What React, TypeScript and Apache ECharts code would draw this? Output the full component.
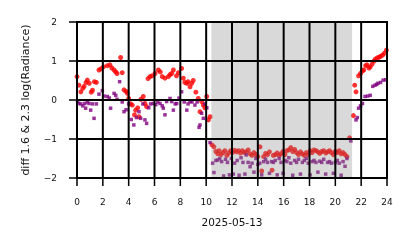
import React, { useEffect, useRef } from "react";
import * as echarts from "echarts";

// [hour, value] pairs
const redPoints: [number, number][] = [
  [0.0, 0.6], [0.15, 0.38], [0.3, 0.21], [0.45, 0.3], [0.55, 0.35], [0.7, 0.45], [0.8, 0.51],
  [0.95, 0.43], [1.1, 0.2], [1.2, 0.25], [1.35, 0.47], [1.5, 0.45], [1.7, 0.77], [1.85, 0.8],
  [2.05, 0.85], [2.35, 0.88], [2.55, 0.9], [2.7, 0.82], [2.87, 0.77], [3.0, 0.72], [3.1, 0.68],
  [3.38, 1.09], [3.5, 0.7], [3.64, 0.26], [3.8, 0.22], [3.9, 0.17], [4.0, 0.04], [4.15, -0.1],
  [4.28, -0.13], [4.45, -0.38], [4.54, -0.26], [4.7, -0.2], [4.8, -0.43], [4.95, 0.02],
  [5.13, 0.09], [5.26, -0.09], [5.39, -0.17], [5.5, 0.55], [5.65, 0.6], [5.8, 0.62], [6.04, 0.68],
  [6.3, 0.77], [6.45, 0.72], [6.6, 0.6], [6.81, 0.56], [7.07, 0.6], [7.2, 0.65], [7.33, 0.68],
  [7.46, 0.77], [7.7, 0.62], [7.85, 0.7], [8.1, 0.81], [8.23, 0.56], [8.35, 0.45], [8.5, 0.43],
  [8.6, 0.47], [8.75, 0.34], [8.88, 0.43], [9.0, 0.5], [9.2, 0.2], [9.39, 0.04], [9.52, -0.3],
  [9.65, -0.04], [9.78, -0.13], [9.9, -0.2], [10.04, 0.09], [10.17, -0.51], [10.3, -0.43],
  [10.45, -1.15], [10.6, -1.2], [10.75, -1.32], [10.9, -1.38], [11.0, -1.3], [11.15, -1.4],
  [11.3, -1.35], [11.45, -1.3], [11.6, -1.42], [11.75, -1.36], [11.9, -1.3], [12.05, -1.34],
  [12.2, -1.29], [12.35, -1.33], [12.5, -1.3], [12.65, -1.36], [12.8, -1.3], [12.95, -1.35],
  [13.1, -1.33], [13.25, -1.28], [13.4, -1.38], [13.55, -1.42], [13.7, -1.35], [13.85, -1.4],
  [14.0, -1.45], [14.17, -1.2], [14.3, -1.82], [14.45, -1.45], [14.6, -1.37], [14.75, -1.4],
  [14.9, -1.33], [15.1, -1.8], [15.2, -1.42], [15.35, -1.4], [15.5, -1.36], [15.65, -1.42],
  [15.8, -1.38], [15.95, -1.32], [16.1, -1.4], [16.25, -1.3], [16.4, -1.28], [16.55, -1.22],
  [16.7, -1.32], [16.85, -1.27], [17.0, -1.35], [17.15, -1.4], [17.3, -1.33], [17.45, -1.38],
  [17.6, -1.42], [17.75, -1.35], [17.9, -1.4], [18.05, -1.3], [18.2, -1.35], [18.35, -1.28],
  [18.5, -1.3], [18.65, -1.33], [18.8, -1.37], [18.95, -1.32], [19.1, -1.3], [19.25, -1.36],
  [19.4, -1.33], [19.55, -1.3], [19.7, -1.35], [19.85, -1.4], [20.0, -1.32], [20.15, -1.35],
  [20.3, -1.3], [20.45, -1.38], [20.6, -1.35], [20.75, -1.4], [20.9, -1.45], [21.1, -0.97],
  [21.4, -0.4], [21.5, 0.38], [21.6, 0.21], [21.8, 0.62], [21.95, 0.68], [22.1, 0.75],
  [22.2, 0.77], [22.35, 0.88], [22.45, 0.9], [22.6, 0.82], [22.7, 0.85], [22.85, 0.92],
  [23.0, 1.0], [23.1, 1.05], [23.25, 1.08], [23.4, 1.1], [23.5, 1.12], [23.65, 1.15],
  [23.8, 1.2], [23.95, 1.28],
];

const purplePoints: [number, number][] = [
  [0.05, -0.05], [0.15, -0.09], [0.3, -0.1], [0.45, -0.15], [0.6, -0.09], [0.67, -0.21],
  [0.8, -0.05], [0.93, -0.09], [1.06, -0.26], [1.2, -0.1], [1.32, -0.47], [1.5, -0.1],
  [1.7, 0.15], [1.96, 0.24], [2.1, 0.1], [2.35, 0.09], [2.5, 0.05], [2.6, -0.21], [2.87, 0.17],
  [3.0, 0.12], [3.1, 0.02], [3.3, 0.47], [3.5, -0.05], [3.64, -0.3], [3.8, -0.25], [4.0, -0.1],
  [4.2, -0.5], [4.4, -0.64], [4.6, -0.45], [4.8, -0.3], [4.93, -0.47], [5.1, -0.1],
  [5.26, -0.51], [5.39, -0.6], [5.55, -0.2], [5.7, -0.1], [5.9, -0.09], [6.1, -0.12],
  [6.25, -0.05], [6.43, -0.09], [6.6, -0.15], [6.68, -0.21], [6.81, -0.38], [6.94, -0.04],
  [7.2, 0.04], [7.33, -0.04], [7.46, -0.26], [7.6, -0.1], [7.72, -0.09], [7.9, 0.05],
  [8.1, 0.21], [8.3, -0.05], [8.5, -0.26], [8.6, -0.1], [8.75, -0.04], [8.9, -0.05],
  [9.13, -0.13], [9.3, -0.05], [9.45, -0.7], [9.52, -0.64], [9.65, -0.34], [9.78, -0.47],
  [9.9, -0.1], [10.05, -0.2], [10.3, -1.09], [10.5, -1.62], [10.6, -1.86], [10.75, -1.55],
  [10.9, -1.54], [11.05, -1.5], [11.2, -1.58], [11.35, -1.95], [11.5, -1.52], [11.65, -1.6],
  [11.8, -1.92], [11.95, -1.5], [12.1, -1.9], [12.2, -1.62], [12.4, -1.55], [12.55, -1.93],
  [12.7, -1.48], [12.85, -1.6], [13.0, -1.9], [13.1, -1.41], [13.25, -1.6], [13.4, -1.71],
  [13.55, -1.62], [13.7, -1.85], [13.85, -1.5], [14.0, -1.65], [14.15, -1.62], [14.3, -1.92],
  [14.45, -1.58], [14.6, -1.52], [14.75, -1.6], [14.9, -1.88], [15.07, -1.58], [15.2, -1.6],
  [15.35, -1.55], [15.5, -1.92], [15.65, -1.5], [15.8, -1.6], [15.95, -1.88], [16.1, -1.55],
  [16.25, -1.58], [16.4, -1.48], [16.55, -1.62], [16.7, -1.93], [16.85, -1.55], [17.0, -1.6],
  [17.15, -1.52], [17.3, -1.9], [17.45, -1.6], [17.6, -1.55], [17.75, -1.5], [17.9, -1.62],
  [18.05, -1.92], [18.2, -1.58], [18.35, -1.55], [18.5, -1.6], [18.65, -1.85], [18.8, -1.57],
  [18.95, -1.6], [19.1, -1.52], [19.25, -1.9], [19.4, -1.6], [19.55, -1.58], [19.7, -1.62],
  [19.85, -1.88], [20.0, -1.6], [20.15, -1.55], [20.3, -1.62], [20.45, -1.93], [20.6, -1.58],
  [20.75, -1.7], [20.9, -1.5], [21.2, -1.05], [21.6, -0.51], [21.7, -0.45], [21.8, -0.21],
  [21.95, -0.15], [22.1, -0.09], [22.3, 0.09], [22.5, 0.1], [22.7, 0.12], [22.9, 0.35],
  [23.07, 0.38], [23.2, 0.4], [23.3, 0.43], [23.5, 0.45], [23.7, 0.51], [23.9, 0.52],
];

const nightSpan: [number, number] = [10.4, 21.3];
const xTickValues = [0, 2, 4, 6, 8, 10, 12, 14, 16, 18, 20, 22, 24];
const yTickValues = [-2, -1, 0, 1, 2];
const xTitle = "2025-05-13";
const yTitle = "diff 1.6 & 2.3 log(Radiance)";

const FONT = "DejaVu Sans";

export default function App() {
  const ref = useRef<HTMLDivElement>(null);
  useEffect(() => {
    if (!ref.current) return;
    const chart = echarts.init(ref.current, undefined, { renderer: "svg" });
    const xMin = xTickValues[0];
    const xMax = xTickValues[xTickValues.length - 1];
    const yMin = yTickValues[0];
    const yMax = yTickValues[yTickValues.length - 1];
    // grid lines, frame and ticks as filled rectangles placed through the axes' scales
    const gridData = [
      ...xTickValues.map((v) => [v, yMin, 0]),
      ...yTickValues.map((v) => [xMin, v, 1]),
    ];
    const LW = 2;
    const TICK = 8;
    const TW = 1.5;
    const renderGrid = (_params: any, api: any) => {
      const kind = api.value(2);
      if (kind === 0) {
        const v = api.value(0);
        const b = api.coord([v, yMin]);
        const t = api.coord([v, yMax]);
        return {
          type: "group",
          children: [
            {
              type: "rect",
              shape: { x: b[0] - LW / 2, y: t[1] - LW / 2, width: LW, height: b[1] - t[1] + LW },
              style: { fill: "#000" },
            },
            {
              type: "rect",
              shape: { x: b[0] - TW / 2, y: b[1], width: TW, height: TICK },
              style: { fill: "#000" },
            },
          ],
        };
      }
      const v = api.value(1);
      const l = api.coord([xMin, v]);
      const r = api.coord([xMax, v]);
      return {
        type: "group",
        children: [
          {
            type: "rect",
            shape: { x: l[0] - LW / 2, y: l[1] - LW / 2, width: r[0] - l[0] + LW, height: LW },
            style: { fill: "#000" },
          },
          {
            type: "rect",
            shape: { x: l[0] - TICK, y: l[1] - TW / 2, width: TICK, height: TW },
            style: { fill: "#000" },
          },
        ],
      };
    };
    chart.setOption({
      animation: false,
      grid: { left: 77, right: 27, top: 22, bottom: 70 },
      xAxis: {
        type: "value",
        min: xMin,
        max: xMax,
        interval: 2,
        axisLine: { show: false },
        axisTick: { show: false },
        splitLine: { show: false },
        axisLabel: { fontFamily: FONT, fontSize: 9, color: "#111", margin: 19 },
      },
      yAxis: {
        type: "value",
        min: yMin,
        max: yMax,
        interval: 1,
        axisLine: { show: false },
        axisTick: { show: false },
        splitLine: { show: false },
        axisLabel: {
          fontFamily: FONT,
          fontSize: 9,
          color: "#111",
          margin: 20,
          formatter: (v: number) => (v < 0 ? "\u2212" + Math.abs(v) : String(v)),
        },
      },
      graphic: [
        {
          type: "text",
          x: 232,
          y: 222,
          silent: true,
          style: {
            text: xTitle,
            fontFamily: FONT,
            fontSize: 10.5,
            fill: "#111",
            align: "center",
            verticalAlign: "middle",
          },
        },
        {
          type: "text",
          x: 25,
          y: 100,
          rotation: Math.PI / 2,
          silent: true,
          style: {
            text: yTitle,
            fontFamily: FONT,
            fontSize: 11,
            fill: "#111",
            align: "center",
            verticalAlign: "middle",
          },
        },
      ],
      series: [
        {
          type: "scatter",
          z: 2,
          symbol: "circle",
          symbolSize: 5,
          itemStyle: { color: "#ff0000" },
          data: redPoints,
          markArea: {
            z: 3,
            silent: true,
            itemStyle: { color: "rgba(128,128,128,0.3)" },
            data: [[{ xAxis: nightSpan[0] }, { xAxis: nightSpan[1] }]],
          },
        },
        {
          type: "scatter",
          z: 2,
          symbol: "rect",
          symbolSize: 3.5,
          itemStyle: { color: "#800080" },
          data: purplePoints,
        },
        {
          type: "custom",
          z: 4,
          silent: true,
          clip: false,
          renderItem: renderGrid,
          encode: { x: 0, y: 1 },
          data: gridData,
        },
      ],
    });
    return () => chart.dispose();
  }, []);
  return <div ref={ref} style={{ position: "fixed", left: 0, top: 0, width: 414, height: 248 }} />;
}
